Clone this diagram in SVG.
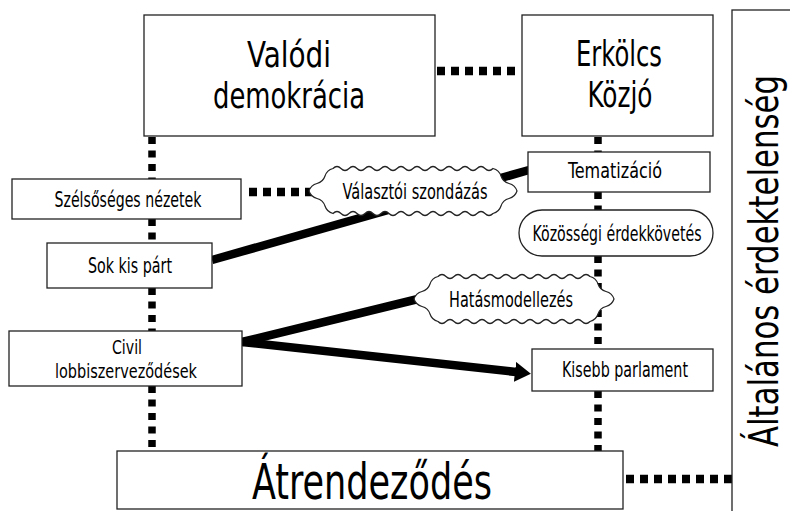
<svg xmlns="http://www.w3.org/2000/svg" width="790" height="511" viewBox="0 0 790 511">
<style>
text{font-family:"DejaVu Sans","Liberation Sans",sans-serif;font-stretch:condensed;fill:#000;text-anchor:middle}
.box{fill:#fff;stroke:#222;stroke-width:1.3}
.cloud{fill:#fff;stroke:#222;stroke-width:1.2}
.dotv{stroke:#000;stroke-width:7.5;stroke-dasharray:7 6.5;fill:none}
.doth{stroke:#000;stroke-width:8.5;stroke-dasharray:8 6;fill:none}
.thick{stroke:#000;stroke-width:8.5;fill:none}
.s{font-size:22px}
.s2{font-size:20px}
.b{font-size:35px}
</style>
<defs>
<marker id="ah" markerUnits="userSpaceOnUse" markerWidth="18" markerHeight="20" refX="1" refY="10" orient="auto">
<path d="M0,0 L16,10 L0,20 z" fill="#000"/>
</marker>
</defs>
<g id="connectors">
<line class="doth" x1="437" y1="71" x2="521" y2="71"/>
<line class="dotv" x1="152" y1="137" x2="152" y2="180"/>
<line class="dotv" x1="152" y1="219" x2="152" y2="243"/>
<line class="dotv" x1="152" y1="288" x2="152" y2="331"/>
<line class="dotv" x1="152" y1="386" x2="152" y2="451"/>
<line class="dotv" x1="598" y1="137" x2="598" y2="152"/>
<line class="dotv" x1="598" y1="192" x2="598" y2="210"/>
<line class="dotv" x1="598" y1="256" x2="598" y2="349"/>
<line class="dotv" x1="598" y1="391" x2="598" y2="451"/>
<line class="doth" x1="249" y1="192" x2="320" y2="192"/>
<line class="doth" x1="626" y1="479" x2="732" y2="479"/>
<line class="thick" x1="212" y1="260" x2="529" y2="170"/>
<line class="thick" x1="242" y1="342" x2="418" y2="299"/>
<line class="thick" x1="242" y1="342" x2="516" y2="372" marker-end="url(#ah)"/>
</g>
<g id="n-valodi">
<rect class="box" x="144" y="15" width="291" height="121"/>
<text class="b" x="289" y="67" textLength="84" lengthAdjust="spacingAndGlyphs">Valódi</text>
<text class="b" x="289" y="108" textLength="152" lengthAdjust="spacingAndGlyphs">demokrácia</text>
</g>
<g id="n-erkolcs">
<rect class="box" x="522" y="15" width="191" height="121"/>
<text class="b" x="619" y="66" textLength="86" lengthAdjust="spacingAndGlyphs">Erkölcs</text>
<text class="b" x="620" y="107" textLength="65" lengthAdjust="spacingAndGlyphs">Közjó</text>
</g>
<g id="n-altalanos">
<rect class="box" x="732" y="10" width="70" height="520"/>
<text font-size="40" transform="translate(778,261) rotate(-90)" textLength="372" lengthAdjust="spacingAndGlyphs">Általános érdektelenség</text>
</g>
<g id="n-szelsoseges">
<rect class="box" x="12" y="179" width="229" height="40"/>
<text class="s" x="128" y="207" textLength="147" lengthAdjust="spacingAndGlyphs">Szélsőséges nézetek</text>
</g>
<g id="n-sokkisparty">
<rect class="box" x="47" y="243" width="165" height="45"/>
<text class="s" x="130" y="273" textLength="84" lengthAdjust="spacingAndGlyphs">Sok kis párt</text>
</g>
<g id="n-civil">
<rect class="box" x="9" y="331" width="233" height="55"/>
<text class="s2" x="127" y="354" textLength="30" lengthAdjust="spacingAndGlyphs">Civil</text>
<text class="s2" x="126" y="378" textLength="142" lengthAdjust="spacingAndGlyphs">lobbiszerveződések</text>
</g>
<g id="n-tematizacio">
<rect class="box" x="528" y="152" width="182" height="40"/>
<text class="s" x="615" y="178" textLength="94" lengthAdjust="spacingAndGlyphs">Tematizáció</text>
</g>
<g id="n-kozossegi">
<rect class="box" x="519" y="210" width="194" height="46" rx="23" ry="23"/>
<text class="s" x="617" y="241" textLength="169" lengthAdjust="spacingAndGlyphs">Közösségi érdekkövetés</text>
</g>
<g id="n-valasztoi">
<path class="cloud" d="M333,168.5 q4,-4 8,0 t8,0 t8,0 t8,0 t8,0 t8,0 t8,0 t8,0 t8,0 t8,0 t8,0 t8,0 t8,0 t8,0 t8,0 t8,0 t8,0 t8,0 t8,0 t8,0 q6.05,1.56 8,7.5 t8,7.5 t8,7.5 q-1.95,5.94 -8,7.5 t-8,7.5 t-8,7.5 q-4,4 -8,0 t-8,0 t-8,0 t-8,0 t-8,0 t-8,0 t-8,0 t-8,0 t-8,0 t-8,0 t-8,0 t-8,0 t-8,0 t-8,0 t-8,0 t-8,0 t-8,0 t-8,0 t-8,0 t-8,0 q-6.05,-1.56 -8,-7.5 t-8,-7.5 t-8,-7.5 q1.95,-5.94 8,-7.5 t8,-7.5 t8,-7.5 z"/>
<text class="s" x="415" y="199" textLength="145" lengthAdjust="spacingAndGlyphs">Választói szondázás</text>
</g>
<g id="n-hatas">
<path class="cloud" d="M438,276.5 q4,-4 8,0 t8,0 t8,0 t8,0 t8,0 t8,0 t8,0 t8,0 t8,0 t8,0 t8,0 t8,0 t8,0 t8,0 t8,0 t8,0 t8,0 t8,0 t8,0 q6.05,1.56 8,7.5 t8,7.5 t8,7.5 q-1.95,5.94 -8,7.5 t-8,7.5 t-8,7.5 q-4,4 -8,0 t-8,0 t-8,0 t-8,0 t-8,0 t-8,0 t-8,0 t-8,0 t-8,0 t-8,0 t-8,0 t-8,0 t-8,0 t-8,0 t-8,0 t-8,0 t-8,0 t-8,0 t-8,0 q-6.05,-1.56 -8,-7.5 t-8,-7.5 t-8,-7.5 q1.95,-5.94 8,-7.5 t8,-7.5 t8,-7.5 z"/>
<text class="s" x="511" y="307" textLength="124" lengthAdjust="spacingAndGlyphs">Hatásmodellezés</text>
</g>
<g id="n-kisebb">
<rect class="box" x="532" y="349" width="181" height="42"/>
<text class="s" x="625" y="377" textLength="126" lengthAdjust="spacingAndGlyphs">Kisebb parlament</text>
</g>
<g id="n-atrendezodes">
<rect class="box" x="117" y="451" width="506" height="58"/>
<text font-size="50" x="372" y="499" textLength="240" lengthAdjust="spacingAndGlyphs">Átrendeződés</text>
</g>
</svg>
